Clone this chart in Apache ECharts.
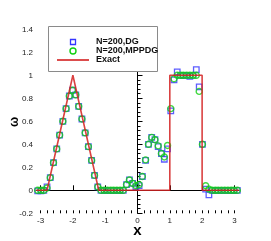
<!DOCTYPE html>
<html><head><meta charset="utf-8">
<script src="https://cdn.jsdelivr.net/npm/echarts@6/dist/echarts.min.js"></script>
<style>html,body{margin:0;padding:0;background:#fff}#c{width:271px;height:241px}</style>
</head><body><div id="c"></div>
<script>
// x positions of plotted points (every few cells of N=200 grid)
var xs = [-3.09,-2.99,-2.90,-2.80,-2.70,-2.60,-2.50,-2.41,-2.31,-2.21,-2.11,-2.01,-1.91,-1.82,-1.72,-1.62,
  -1.52,-1.42,-1.33,-1.23,-1.13,-1.03,-0.93,-0.83,-0.74,-0.64,-0.54,-0.44,-0.34,-0.25,-0.15,-0.05,
  0.05,0.15,0.25,0.34,0.44,0.54,0.64,0.74,0.83,0.93,1.03,1.13,1.23,1.33,1.42,1.52,
  1.62,1.72,1.82,1.91,2.01,2.11,2.21,2.31,2.41,2.50,2.60,2.70,2.80,2.90,2.99,3.09];
var dgVals = [-0.005,-0.005,0.0,0.03,0.11,0.24,0.36,0.48,0.60,0.71,0.82,0.87,0.83,0.73,0.62,0.50,
  0.38,0.26,0.13,0.03,0.0,0.0,0.0,0.0,0.0,0.0,0.0,0.0,0.05,0.09,0.06,0.03,
  0.04,0.12,0.26,0.40,0.46,0.44,0.38,0.32,0.27,0.36,0.69,0.96,1.03,1.0,1.0,1.0,
  0.99,1.0,1.05,0.90,0.40,0.01,-0.04,0.0,0.0,0.0,0.0,0.0,0.0,0.0,0.0,0.0];
var mppdgVals = [0.0,0.0,0.0,0.02,0.11,0.24,0.36,0.48,0.60,0.71,0.82,0.87,0.83,0.73,0.62,0.50,
  0.38,0.26,0.13,0.03,0.0,0.0,0.0,0.0,0.0,0.0,0.0,0.0,0.05,0.09,0.06,0.04,
  0.05,0.12,0.265,0.40,0.46,0.44,0.386,0.32,0.29,0.39,0.71,0.97,1.0,1.0,1.0,1.0,
  1.0,1.0,1.0,0.86,0.40,0.04,0.01,0.0,0.0,0.0,0.0,0.0,0.0,0.0,0.0,0.0];
var exactX = [-Math.PI,-2.8,-2.0,-1.2,1.0,1.0,2.0,2.0,Math.PI];
var exactY = [0,0,1,0,0,1,1,0,0];
var xMajorTicks = [-3,-2,-1,0,1,2,3];
var xMinorTicks = [-3.0,-2.8,-2.6,-2.4,-2.2,-2.0,-1.8,-1.6,-1.4,-1.2,-1.0,-0.8,-0.6,-0.4,-0.2,0.0,
  0.2,0.4,0.6,0.8,1.0,1.2,1.4,1.6,1.8,2.0,2.2,2.4,2.6,2.8,3.0];
var yMajorTicks = [-0.2,0,0.2,0.4,0.6,0.8,1,1.2,1.4];
var yTickLabels = ['-0.2','0','0.2','0.4','0.6','0.8','1','1.2','1.4'];
var legendNames = ['N=200,DG','N=200,MPPDG','Exact'];
var yName = 'ω', xName = 'x';

var BLUE = '#3535ff', GREEN = '#11d011', RED = '#d42020';
function pairs(a,b){return a.map(function(v,i){return [v,b[i]];});}
function yFmt(v){
  for (var i=0;i<yMajorTicks.length;i++){ if (Math.abs(v-yMajorTicks[i])<1e-6) return yTickLabels[i]; }
  return '';
}
var font = 'Liberation Sans, Arial, sans-serif';
var txt = {fontFamily:font,fontSize:9,fontWeight:'bold',fill:'#111'};
var chart = echarts.init(document.getElementById('c'), null, {renderer:'canvas'});
chart.setOption({
  animation:false,
  backgroundColor:'#fff',
  grid:{left:36,right:32,top:29.3,bottom:27.7,outerBoundsMode:'none',containLabel:false},
  graphic:[
    {type:'rect',shape:{x:48.5,y:26.5,width:109,height:45},style:{fill:'#fff',stroke:'#8a8a8a',lineWidth:1},z:10},
    {type:'rect',shape:{x:70.5,y:39.5,width:5,height:5},style:{fill:'none',stroke:BLUE,lineWidth:1.3},z:11},
    {type:'circle',shape:{cx:73,cy:51,r:3},style:{fill:'none',stroke:GREEN,lineWidth:1.4},z:11},
    {type:'line',shape:{x1:57,y1:60,x2:89,y2:60},style:{stroke:RED,lineWidth:1.6},z:11},
    {type:'text',x:96,y:42,style:Object.assign({text:legendNames[0],verticalAlign:'middle'},txt),z:11},
    {type:'text',x:96,y:51,style:Object.assign({text:legendNames[1],verticalAlign:'middle'},txt),z:11},
    {type:'text',x:96,y:60,style:Object.assign({text:legendNames[2],verticalAlign:'middle'},txt),z:11},
    {type:'text',x:15,y:122,rotation:Math.PI/2,
     style:{text:yName,fontFamily:font,fontSize:12,fontWeight:'bold',fill:'#000',align:'center',verticalAlign:'middle'},z:1}
  ],
  xAxis:[{
    type:'value', min:-Math.PI, max:Math.PI,
    name:xName, nameLocation:'middle', nameGap:10, nameMoveOverlap:false,
    nameTextStyle:{fontFamily:font,fontSize:15,fontWeight:'bold',color:'#000'},
    axisLine:{lineStyle:{color:'#000',width:1}},
    axisTick:{inside:true,length:5,customValues:xMajorTicks,lineStyle:{color:'#000'}},
    axisLabel:{customValues:xMajorTicks,margin:3,fontFamily:font,fontSize:8,color:'#222',hideOverlap:false},
    splitLine:{show:false}
  },{
    type:'value', min:-Math.PI, max:Math.PI, position:'bottom',
    axisLine:{show:false},
    axisTick:{inside:true,length:3,customValues:xMinorTicks,lineStyle:{color:'#000'}},
    axisLabel:{show:false},
    splitLine:{show:false}
  }],
  yAxis:{
    type:'value', min:-0.2, max:1.4, interval:0.2,
    axisLine:{show:true,lineStyle:{color:'#000',width:1}},
    axisTick:{show:true,inside:true,length:5,lineStyle:{color:'#000'}},
    minorTick:{show:true,splitNumber:5,length:3,lineStyle:{color:'#000'}},
    axisLabel:{customValues:yMajorTicks,formatter:yFmt,margin:3,fontFamily:font,fontSize:8,color:'#222',hideOverlap:false},
    splitLine:{show:false}
  },
  series:[{
    name:legendNames[0], type:'scatter', data:pairs(xs,dgVals),
    symbol:'rect', symbolSize:5.5, z:2,
    itemStyle:{color:'rgba(0,0,0,0)',borderColor:BLUE,borderWidth:1.3}
  },{
    name:legendNames[1], type:'scatter', data:pairs(xs,mppdgVals),
    symbol:'circle', symbolSize:6, z:3,
    itemStyle:{color:'rgba(0,0,0,0)',borderColor:GREEN,borderWidth:1.4}
  },{
    name:legendNames[2], type:'line', data:pairs(exactX,exactY),
    showSymbol:false, symbol:'none', z:4,
    lineStyle:{color:RED,width:1.6,opacity:0.85}
  }]
});
</script></body></html>
